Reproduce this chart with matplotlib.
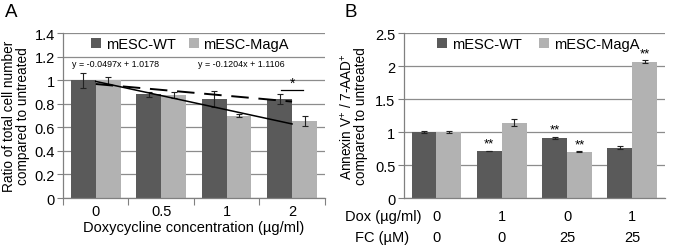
import matplotlib

matplotlib.use("Agg")
import matplotlib.pyplot as plt
import numpy as np

# panel A data
dox_labels = ["0", "0.5", "1", "2"]
a_wt = [1.0, 0.88, 0.84, 0.84]
a_wt_err = [0.065, 0.02, 0.065, 0.045]
a_maga = [1.0, 0.875, 0.70, 0.655]
a_maga_err = [0.03, 0.025, 0.01, 0.04]
wt_fit = (-0.0497, 1.0178)
maga_fit = (-0.1204, 1.1106)

# panel B data
b_wt = [1.0, 0.71, 0.915, 0.765]
b_wt_err = [0.01, 0.004, 0.015, 0.025]
b_maga = [1.0, 1.145, 0.70, 2.07]
b_maga_err = [0.02, 0.05, 0.008, 0.02]
b_dox = ["0", "1", "0", "1"]
b_fc = ["0", "0", "25", "25"]
b_wt_stars = ["", "**", "**", ""]
b_maga_stars = ["", "", "**", "**"]

WT_COLOR = "#5a5a5a"
MAGA_COLOR = "#b2b2b2"
GRID = "#8c8c8c"
FS = 10.5

plt.rcParams.update(
    {
        "font.family": ["Liberation Sans", "DejaVu Sans"],
        "font.size": FS,
        "mathtext.fontset": "custom",
        "mathtext.rm": "Liberation Sans",
        "mathtext.it": "Liberation Sans:italic",
    }
)

fig = plt.figure(figsize=(6.73, 2.51), dpi=100)
ax_a = fig.add_axes([0.0936, 0.207, 0.389, 0.657])
ax_b = fig.add_axes([0.600, 0.207, 0.388, 0.657])

width = 0.38
x = np.arange(4)


def style_axis(ax, ymax, step):
    ax.set_xlim(-0.5, 3.5)
    ax.set_ylim(0, ymax)
    ticks = np.arange(0, ymax + step / 2, step)
    ax.set_yticks(ticks)
    ax.set_yticklabels([f"{t:g}" for t in ticks])
    ax.yaxis.grid(True, color=GRID, linewidth=0.9)
    ax.set_axisbelow(True)
    for side in ("top", "right"):
        ax.spines[side].set_visible(False)
    for side in ("left", "bottom"):
        ax.spines[side].set_color("#808080")
        ax.spines[side].set_linewidth(0.9)
    ax.tick_params(axis="y", length=4, color="#808080", pad=2, labelsize=FS)


def draw_bars(ax, wt, wt_err, maga, maga_err, anchor, colspace):
    ekw = dict(elinewidth=0.8, capthick=0.8, ecolor="#222222")
    ax.bar(x - width / 2, wt, width, color=WT_COLOR, label="mESC-WT",
           yerr=wt_err, capsize=2.5, error_kw=ekw)
    ax.bar(x + width / 2, maga, width, color=MAGA_COLOR, label="mESC-MagA",
           yerr=maga_err, capsize=2.5, error_kw=ekw)
    ax.legend(loc="center", ncol=2, frameon=False, handlelength=0.7,
              handleheight=0.7, handletextpad=0.3, columnspacing=colspace,
              borderaxespad=0, fontsize=FS, bbox_to_anchor=anchor)


# ---- panel A ----
style_axis(ax_a, 1.4, 0.2)
draw_bars(ax_a, a_wt, a_wt_err, a_maga, a_maga_err, (0.485, 0.933), 0.9)
xs = np.array([0, 3])
ax_a.plot(xs, wt_fit[0] * (xs + 1) + wt_fit[1], color="black", linewidth=1.4,
          dashes=(9, 5))
ax_a.plot(xs, maga_fit[0] * (xs + 1) + maga_fit[1], color="black", linewidth=1.1)
ax_a.text(-0.36, 1.145, f"y = {wt_fit[0]}x + {wt_fit[1]}", fontsize=6.4, va="center")
ax_a.text(1.57, 1.145, f"y = {maga_fit[0]}x + {maga_fit[1]}", fontsize=6.4, va="center")
ax_a.plot([3 - 0.17, 3 + 0.17], [0.918, 0.918], color="black", linewidth=0.9)
ax_a.text(3, 0.915, "*", ha="center", va="bottom", fontsize=10)
ax_a.set_xticks([-0.5, 0.5, 1.5, 2.5, 3.5], minor=False)
ax_a.set_xticklabels([])
ax_a.set_xticks(x, minor=True)
ax_a.set_xticklabels(dox_labels, minor=True)
ax_a.tick_params(axis="x", which="major", length=5, color="#808080")
ax_a.tick_params(axis="x", which="minor", length=0, pad=4, labelsize=FS)
ax_a.set_xlabel("Doxycycline concentration (µg/ml)", labelpad=2, fontsize=FS)
ax_a.set_ylabel("Ratio of total cell number\ncompared to untreated",
                linespacing=1.0, labelpad=3, fontsize=9.8)
fig.text(0.008, 0.985, "A", fontsize=13.5, va="top", ha="left")

# ---- panel B ----
style_axis(ax_b, 2.5, 0.5)
draw_bars(ax_b, b_wt, b_wt_err, b_maga, b_maga_err, (0.515, 0.933), 1.2)
for i in range(4):
    if b_wt_stars[i]:
        ax_b.text(x[i] - width / 2, b_wt[i] + b_wt_err[i] + 0.02, b_wt_stars[i],
                  ha="center", va="bottom", fontsize=9.5)
    if b_maga_stars[i]:
        ax_b.text(x[i] + width / 2, b_maga[i] + b_maga_err[i] + 0.01, b_maga_stars[i],
                  ha="center", va="bottom", fontsize=9.5)
ax_b.set_xticks([])
trans = ax_b.get_xaxis_transform()
for i in range(4):
    ax_b.text(x[i], -0.109, b_dox[i], transform=trans, ha="center", va="center")
    ax_b.text(x[i], -0.236, b_fc[i], transform=trans, ha="center", va="center")
ax_b.text(-0.226, -0.109, "Dox (µg/ml)", transform=ax_b.transAxes, ha="left", va="center")
ax_b.text(-0.188, -0.236, "FC (µM)", transform=ax_b.transAxes, ha="left", va="center")
ax_b.set_ylabel("Annexin V$^{+}$ / 7-AAD$^{+}$\ncompared to untreated",
                linespacing=1.0, labelpad=5, fontsize=9.8)
fig.text(0.512, 0.985, "B", fontsize=13.5, va="top", ha="left")

fig.savefig("out.png", dpi=100)
